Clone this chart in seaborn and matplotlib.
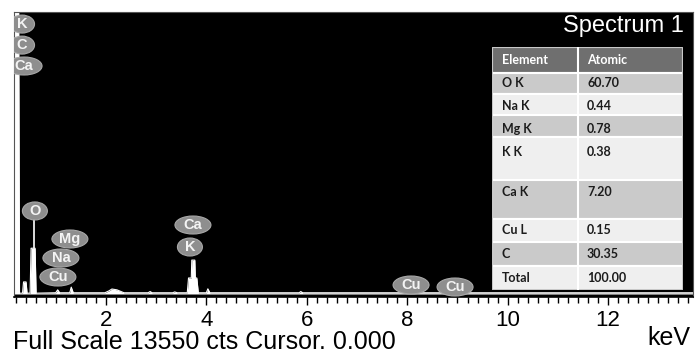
import matplotlib
matplotlib.use("Agg")
import matplotlib.pyplot as plt
from matplotlib.patches import Ellipse, Rectangle
from matplotlib.transforms import ScaledTranslation
import seaborn as sns
import pandas as pd

# ---------------- data ----------------
energy_kev = [0.17, 0.18, 0.26, 0.28, 0.34, 0.36, 0.41, 0.43, 0.49, 0.51, 0.59, 0.61,
              1.00, 1.04, 1.08, 1.28, 1.31, 1.35, 1.98, 2.06, 2.12, 2.22, 2.32, 2.36,
              2.84, 2.88, 2.92, 3.33, 3.37, 3.42, 3.62, 3.645, 3.70, 3.71, 3.77, 3.78,
              3.81, 3.84, 4.00, 4.03, 4.07, 5.85, 5.88, 5.92, 13.69]
counts = [40, 16000, 16000, 40, 40, 580, 580, 40, 40, 2200, 2200, 40,
          60, 200, 60, 60, 330, 60, 60, 150, 240, 200, 100, 60,
          60, 120, 60, 60, 100, 60, 60, 770, 770, 1630, 1630, 770,
          770, 60, 60, 250, 60, 60, 120, 60, 60]

peak_labels = ["K", "C", "Ca", "O", "Mg", "Na", "Cu", "Ca", "K", "Cu", "Cu"]
label_energy = [0.33, 0.33, 0.37, 0.586, 1.283, 1.104, 1.044, 3.733, 3.673, 8.076, 8.952]
label_counts = [12970, 11960, 10955, 3990, 2643, 1730, 817, 3315, 2258, 432, 336]

table_elements = ["O K", "Na K", "Mg K", "K K", "Ca K", "Cu L", "C", "Total"]
table_atomic = ["60.70", "0.44", "0.78", "0.38", "7.20", "0.15", "30.35", "100.00"]

x_ticks = [2, 4, 6, 8, 10, 12]
x_tick_labels = ["2", "4", "6", "8", "10", "12"]

full_scale = 13550

# ---------------- style ----------------
sns.set_theme(style="white")
plt.rcParams["font.family"] = ["Liberation Sans", "DejaVu Sans"]

W, H = 695, 353
fig = plt.figure(figsize=(W / 100, H / 100), dpi=100)
fig.patch.set_facecolor("white")

ax = fig.add_axes([14 / W, 56 / H, 679 / W, 285 / H])
ax.set_facecolor("black")

df = pd.DataFrame({"energy": energy_kev, "counts": counts})
ax.fill_between(df["energy"], df["counts"], 0, color="white", lw=0, zorder=1)
sns.lineplot(data=df, x="energy", y="counts", color="white", lw=0.8, ax=ax, zorder=2)

ax.set_xlim(0.17, 13.69)
ax.set_ylim(-144, full_scale)
ax.set_yticks([])
ax.set_xticks(x_ticks)
ax.set_xticklabels(x_tick_labels, fontsize=16, color="black")
ax.set_xticks([i * 0.2 for i in range(1, 69)], minor=True)
ax.tick_params(axis="x", which="major", direction="out", length=6, width=1,
               color="black", pad=3, bottom=True)
ax.tick_params(axis="x", which="minor", direction="out", length=4, width=1,
               color="black", bottom=True)
ax.set_xlabel("")
ax.set_ylabel("")
for s in ax.spines.values():
    s.set_color("#555555")
    s.set_linewidth(0.8)
ax.spines["bottom"].set_color("black")
ax.spines["bottom"].set_linewidth(1.2)

# O label stem
ax.plot([0.575, 0.575], [2200, 3650], color="white", lw=1.2, zorder=3)

# peak labels: grey ellipses with white text
for lab, e, c in zip(peak_labels, label_energy, label_counts):
    w = 0.25 if len(lab) == 1 else 0.36
    h = 0.18
    tr = fig.dpi_scale_trans + ScaledTranslation(e, c, ax.transData)
    ell = Ellipse((0, 0), w, h, transform=tr, facecolor="#8e8e8e",
                  edgecolor="#a8a8a8", lw=0.8, zorder=4)
    ax.add_patch(ell)
    ax.text(e, c, lab, color="#f4f4f4", fontsize=10.5, fontweight="bold",
            ha="center", va="center", zorder=5, clip_on=True)

# Title
fig.text(684 / W, 1 - 32 / H, "Spectrum 1", color="white", fontsize=17,
         ha="right", va="baseline")

# Bottom texts
fig.text(13 / W, 1 - 349 / H, "Full Scale 13550 cts Cursor. 0.000", color="black",
         fontsize=18, ha="left", va="baseline")
fig.text(690 / W, 1 - 345 / H, "keV", color="black", fontsize=18,
         ha="right", va="baseline")

# ---------------- table ----------------
tab = fig.add_axes([492 / W, 1 - 290 / H, 191 / W, 243 / H])
tab.set_xlim(492, 683)
tab.set_ylim(290, 47)
tab.axis("off")

row_edges = [47, 73, 94, 115, 137, 180, 219, 242, 266, 290]
text_y = [60, 83, 106, 129, 152, 192, 230, 254, 278]
row_colors = ["#6f6f6f"] + ["#cacaca" if i % 2 == 0 else "#efefef" for i in range(8)]
for i in range(9):
    y0, y1 = row_edges[i], row_edges[i + 1]
    tab.add_patch(Rectangle((492, y0), 191, y1 - y0, facecolor=row_colors[i],
                            edgecolor="white", lw=1.5))
tab.plot([578, 578], [47, 290], color="white", lw=1.5)
tab.add_patch(Rectangle((492, 47), 191, 243, facecolor="none", edgecolor="#bdbdbd", lw=1.2))

fam = ["Lato", "DejaVu Sans"]
tab.text(502, text_y[0], "Element", color="white", fontsize=9, fontweight="bold",
         family=fam, ha="left", va="center")
tab.text(587, text_y[0], "Atomic", color="white", fontsize=9, fontweight="bold",
         family=fam, ha="left", va="center")
for i, (el, at) in enumerate(zip(table_elements, table_atomic)):
    yy = text_y[i + 1]
    tab.text(502, yy, el, color="#1c1c1c", fontsize=9, fontweight="bold",
             family=fam, ha="left", va="center")
    tab.text(587, yy, at, color="#1c1c1c", fontsize=9, fontweight="bold",
             family=fam, ha="left", va="center")

fig.savefig("out.png", dpi=100, facecolor="white")
